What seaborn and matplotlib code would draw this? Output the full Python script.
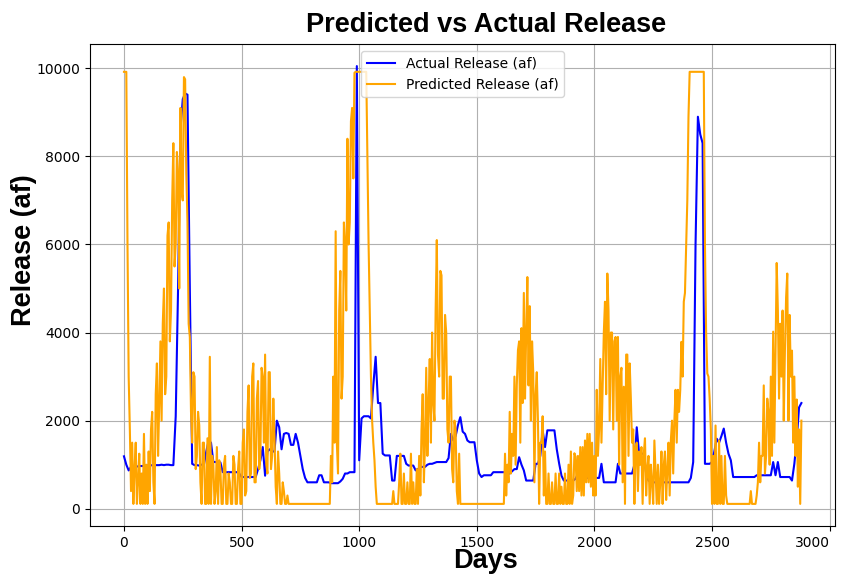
import numpy as np
import pandas as pd
import seaborn as sns
import matplotlib.pyplot as plt

# actual release: one reading every 10 days
actual_days = list(range(0, 2890, 10))
actual_release = [
    1190, 1000, 870, 950, 950, 960, 960, 970, 970, 980,
    980, 980, 990, 990, 990, 990, 1000, 990, 1000, 1000,
    990, 990, 2100, 5000, 8600, 9300, 9430, 9400, 5000, 1020,
    990, 990, 980, 1000, 1000, 1300, 1550, 1500, 1060, 1060,
    1060, 1050, 830, 830, 830, 830, 830, 830, 830, 800,
    720, 720, 720, 720, 720, 720, 720, 900, 1100, 1400,
    750, 1300, 1350, 1300, 1300, 2000, 1850, 1350, 1700, 1720,
    1700, 1450, 1450, 1700, 1500, 1200, 900, 700, 600, 600,
    600, 600, 600, 760, 760, 600, 600, 600, 580, 580,
    580, 580, 620, 680, 800, 800, 830, 830, 830, 10050,
    1100, 2050, 2100, 2100, 2100, 2050, 2800, 3450, 2400, 2400,
    1250, 1210, 1210, 1210, 640, 640, 1200, 1200, 1200, 1200,
    1020, 980, 980, 980, 870, 900, 950, 950, 950, 1000,
    1020, 1020, 1040, 1060, 1060, 1060, 1060, 1060, 1150, 1700,
    1550, 1650, 1900, 2080, 1750, 1700, 1550, 1510, 1510, 1510,
    1100, 800, 720, 760, 760, 760, 760, 830, 830, 830,
    830, 830, 830, 800, 800, 850, 900, 900, 1170, 1000,
    870, 640, 640, 640, 640, 1020, 1020, 1200, 1780, 1400,
    1780, 1780, 1780, 1780, 1350, 1030, 750, 640, 640, 640,
    640, 640, 680, 800, 800, 750, 750, 700, 700, 700,
    700, 700, 700, 1020, 600, 600, 600, 600, 600, 600,
    1020, 800, 800, 800, 800, 800, 800, 1000, 1850, 1250,
    1250, 1250, 800, 640, 600, 600, 600, 600, 600, 600,
    600, 600, 600, 600, 600, 600, 600, 600, 600, 600,
    600, 700, 1060, 6000, 8900, 8500, 8300, 1020, 1020, 1020,
    1060, 1300, 1590, 1500, 1650, 1820, 1500, 1250, 1100, 720,
    720, 720, 720, 720, 720, 720, 720, 720, 720, 760,
    760, 760, 760, 760, 760, 760, 1060, 760, 1060, 720,
    720, 720, 720, 720, 640, 1020, 1550, 2300, 2400,
]

# predicted release is much noisier: one reading every 5 days
predicted_days = list(range(0, 2885, 5))
predicted_release = [
    # 0 - 95
    9920, 9920, 9920, 6000, 3000, 1800, 400, 1500, 110, 900,
    1500, 110, 600, 1250, 110, 800, 110, 1700, 110, 1000,
    # 100 - 195
    110, 1300, 400, 1800, 2200, 600, 110, 2600, 3300, 1200,
    2400, 3800, 2000, 4200, 5000, 2600, 3000, 6200, 6500, 3800,
    # 200 - 295
    4500, 7000, 8300, 5500, 6000, 8100, 7600, 5000, 9100, 7200,
    7000, 9800, 9750, 7600, 6500, 4200, 3900, 2200, 1500, 3100,
    # 300 - 395
    3000, 900, 1200, 2200, 1900, 600, 110, 1500, 1500, 110,
    110, 1600, 110, 3450, 110, 1200, 1000, 110, 400, 1400,
    # 400 - 495
    110, 1100, 900, 110, 110, 1000, 1200, 110, 110, 800,
    600, 110, 110, 1200, 1000, 110, 110, 900, 1300, 110,
    # 500 - 595
    110, 1500, 1800, 300, 400, 2200, 2800, 700, 800, 3000,
    3300, 600, 600, 2500, 2900, 900, 1200, 3200, 3000, 1500,
    # 600 - 695
    3500, 1000, 800, 3100, 3100, 900, 1200, 2500, 1600, 500,
    110, 1300, 800, 110, 110, 600, 400, 110, 110, 300,
    # 700 - 795
    110, 110, 110, 110, 110, 110, 110, 110, 110, 110,
    110, 110, 110, 110, 110, 110, 110, 110, 110, 110,
    # 800 - 895
    110, 110, 110, 110, 110, 110, 110, 110, 110, 110,
    110, 110, 110, 110, 110, 110, 1200, 600, 3000, 1500,
    # 900 - 995
    6300, 1500, 800, 4500, 5400, 2500, 3000, 6500, 6000, 4500,
    8400, 6000, 6500, 8800, 9100, 7500, 9900, 9920, 9920, 9920,
    # 1000 - 1095
    9920, 9920, 9920, 9920, 9920, 9920, 9920, 8000, 6000, 4500,
    3000, 2000, 1500, 1100, 500, 110, 110, 110, 110, 110,
    # 1100 - 1195
    110, 110, 110, 110, 110, 110, 110, 110, 110, 400,
    110, 110, 110, 110, 600, 1250, 110, 110, 800, 110,
    # 1200 - 1295
    110, 600, 110, 110, 1250, 110, 600, 110, 110, 900,
    110, 1200, 300, 1800, 2600, 600, 1500, 3200, 1200, 2400,
    # 1300 - 1395
    3400, 1500, 4000, 2400, 2000, 4500, 6100, 3500, 3000, 5400,
    5300, 2500, 2500, 4400, 4000, 1800, 1500, 3000, 3000, 900,
    # 1400 - 1495
    600, 2000, 1800, 400, 110, 1250, 110, 110, 110, 110,
    110, 110, 110, 110, 110, 110, 110, 110, 110, 110,
    # 1500 - 1595
    110, 110, 110, 110, 110, 110, 110, 110, 110, 110,
    110, 110, 110, 110, 110, 110, 110, 110, 110, 110,
    # 1600 - 1695
    110, 110, 110, 110, 1250, 300, 1000, 600, 2200, 800,
    1700, 1200, 3000, 1000, 2800, 3600, 3800, 1500, 4100, 2400,
    # 1700 - 1795
    4900, 2500, 4000, 5260, 2800, 4600, 2000, 3800, 3100, 600,
    2600, 3100, 2000, 110, 1500, 1500, 2100, 300, 1300, 110,
    # 1800 - 1895
    110, 800, 110, 110, 600, 110, 110, 800, 110, 110,
    800, 110, 500, 110, 110, 800, 110, 110, 1000, 110,
    # 1900 - 1995
    1300, 110, 300, 1260, 1180, 400, 1200, 400, 1400, 300,
    1400, 300, 1550, 600, 1700, 600, 1700, 500, 1500, 300,
    # 2000 - 2095
    1200, 300, 2700, 1200, 1800, 3400, 1500, 2800, 4000, 4700,
    2600, 5340, 4500, 2000, 4000, 4000, 1800, 3800, 3900, 2000,
    # 2100 - 2195
    3900, 1000, 3000, 3200, 600, 2770, 110, 3500, 3500, 1200,
    3300, 2500, 1500, 1800, 110, 1400, 1500, 400, 1300, 1000,
    # 2200 - 2295
    1400, 110, 1250, 1600, 300, 900, 1200, 110, 1000, 600,
    110, 1550, 800, 110, 1000, 110, 600, 1300, 110, 1000,
    # 2300 - 2395
    1300, 200, 900, 1500, 300, 1550, 2000, 800, 2000, 2700,
    1500, 2700, 2200, 2700, 3790, 3000, 4700, 4900, 5950, 7000,
    # 2400 - 2495
    8900, 9920, 9920, 9920, 9920, 9920, 9920, 9920, 9920, 9920,
    9920, 9920, 9920, 9920, 6000, 4000, 3070, 3000, 2500, 1800,
    # 2500 - 2595
    110, 1200, 110, 1890, 110, 110, 1550, 110, 1200, 110,
    110, 1200, 300, 110, 110, 110, 110, 110, 110, 110,
    # 2600 - 2695
    110, 110, 110, 110, 110, 110, 110, 110, 110, 110,
    110, 110, 110, 400, 110, 110, 110, 110, 300, 600,
    # 2700 - 2795
    1500, 600, 1200, 1200, 2800, 800, 1200, 2500, 2200, 1000,
    3000, 1200, 4020, 1500, 3600, 5580, 4500, 2500, 4200, 3000,
    # 2800 - 2880
    4500, 2000, 3600, 4800, 5340, 2000, 4400, 3000, 3590, 1500,
    3000, 1200, 2480, 500, 1800, 110, 2000,
]

day_ticks = [0, 500, 1000, 1500, 2000, 2500, 3000]

actual_df = pd.DataFrame({'Days': actual_days, 'Release': actual_release})
predicted_df = pd.DataFrame({'Days': predicted_days, 'Release': predicted_release})

fig = plt.figure(figsize=(8.42, 5.74), dpi=100)
ax = fig.add_axes([0.107, 0.084, 0.885, 0.839])

sns.lineplot(x='Days', y='Release', data=actual_df, color='blue', linewidth=1.5,
             label='Actual Release (af)', ax=ax)
sns.lineplot(x='Days', y='Release', data=predicted_df, color='orange', linewidth=1.5,
             label='Predicted Release (af)', ax=ax)

ax.grid(True)
ax.legend(loc='upper center')
ax.set_title('Predicted vs Actual Release', fontsize=19.5, fontweight='bold',
             family='Liberation Sans', x=0.531, pad=9)
ax.set_xlabel('Days', fontsize=19.5, fontweight='bold', family='Liberation Sans')
ax.set_ylabel('Release (af)', fontsize=19.5, fontweight='bold', family='Liberation Sans')
ax.xaxis.set_label_coords(0.53, -0.046)
ax.yaxis.set_label_coords(-0.071, 0.573)

# the last day label sits against the right edge, keep it inside the picture
ax.set_xticks(day_ticks)
ax.set_xlim(-144, 3024)
ax.xaxis.get_major_ticks()[-1].label1.set_horizontalalignment('right')

fig.savefig('out.png', dpi=100)
